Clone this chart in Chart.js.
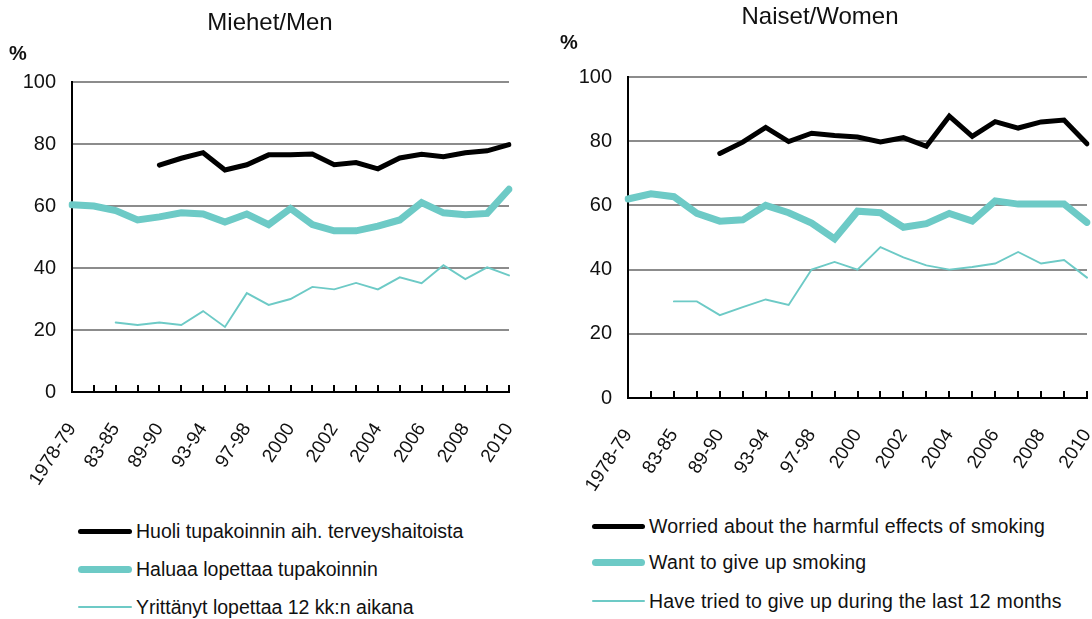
<!DOCTYPE html>
<html>
<head>
<meta charset="utf-8">
<script src="https://cdn.jsdelivr.net/npm/chart.js@4.4.1/dist/chart.umd.min.js"></script>
<style>
  html, body { margin: 0; padding: 0; background: #fff; width: 1092px; height: 619px; overflow: hidden; position: relative; }
  .panel { position: absolute; top: 0; width: 546px; height: 505px; }
  .legend-item { position: absolute; height: 24px; font-family: 'Liberation Sans', Arial, sans-serif; font-size: 19.5px; color: #111; white-space: nowrap; }
  .legend-line { position: absolute; border-radius: 4px; }
  .legend-text { position: absolute; top: 0; line-height: 24px; }
</style>
</head>
<body>
<div class="panel" style="left:0px"><canvas id="men" width="546" height="505"></canvas></div>
<div class="panel" style="left:548px"><canvas id="women" width="546" height="505"></canvas></div>
<div id="legendMen"></div>
<div id="legendWomen"></div>
<script>
// ---- Data ----
const categories = ["1978-79","80-82","83-85","86-88","89-90","91-92","93-94","95-96","97-98","1999","2000","2001","2002","2003","2004","2005","2006","2007","2008","2009","2010"];
const yTicks = [0, 20, 40, 60, 80, 100];

const menWorried = [null,null,null,null,73.2,75.4,77.2,71.6,73.3,76.5,76.5,76.8,73.3,74.0,72.0,75.5,76.7,75.9,77.2,77.8,79.8];
const menWant    = [60.4,60.0,58.5,55.5,56.5,57.8,57.4,54.8,57.4,54.0,59.2,54.0,52.0,52.0,53.5,55.5,61.1,57.8,57.2,57.6,65.4];
const menTried   = [null,null,22.4,21.6,22.4,21.6,26.1,21.0,31.9,28.1,30.0,33.9,33.1,35.2,33.1,37.0,35.1,40.9,36.4,40.2,37.6];

const womenWorried = [null,null,null,null,76.2,79.7,84.3,79.9,82.5,81.8,81.3,79.8,81.1,78.4,87.8,81.5,86.1,84.1,86.0,86.6,79.2];
const womenWant    = [62.0,63.6,62.7,57.5,55.1,55.5,60.0,57.7,54.5,49.6,58.2,57.7,53.2,54.3,57.5,55.1,61.4,60.4,60.4,60.4,54.7];
const womenTried   = [null,null,30.1,30.1,25.8,28.3,30.7,29.0,40.0,42.4,40.0,47.0,43.8,41.3,40.0,40.8,41.9,45.5,41.9,43.0,37.5];

const menLabels   = ["Huoli tupakoinnin aih. terveyshaitoista", "Haluaa lopettaa tupakoinnin", "Yrittänyt lopettaa 12 kk:n aikana"];
const womenLabels = ["Worried about the harmful effects of smoking", "Want to give up smoking", "Have tried to give up during the last 12 months"];
const menTitle = "Miehet/Men";
const womenTitle = "Naiset/Women";
const unitLabel = "%";

// ---- Styles ----
const FONT = "'Liberation Sans', Arial, sans-serif";
const BLACK = '#000000';
const TEAL = '#6dcac6';
const seriesStyle = [
  { color: BLACK, width: 5 },
  { color: TEAL, width: 7 },
  { color: TEAL, width: 1.9 }
];

const textPlugin = {
  id: 'panelText',
  afterDraw(chart, args, opts) {
    const ctx = chart.ctx;
    ctx.save();
    ctx.fillStyle = '#111';
    ctx.textBaseline = 'middle';
    ctx.textAlign = 'center';
    ctx.font = '24px ' + FONT;
    ctx.fillText(opts.title, opts.titleX, opts.titleY);
    ctx.font = 'bold 20px ' + FONT;
    ctx.fillText(opts.unit, opts.unitX, opts.unitY);
    ctx.restore();
  }
};

function makeChart(id, series, labels, geom, texts) {
  const datasets = series.map((d, i) => ({
    label: labels[i],
    data: d,
    borderColor: seriesStyle[i].color,
    backgroundColor: seriesStyle[i].color,
    borderWidth: seriesStyle[i].width,
    pointRadius: 0,
    pointHoverRadius: 0,
    tension: 0,
    borderCapStyle: 'round',
    borderJoinStyle: 'miter',
    fill: false,
    order: 3 - i
  }));
  return new Chart(document.getElementById(id), {
    type: 'line',
    data: { labels: categories, datasets },
    options: {
      responsive: false,
      animation: false,
      events: [],
      layout: { padding: { top: geom.top, left: 0, right: geom.right, bottom: 0 } },
      plugins: {
        legend: { display: false },
        tooltip: { enabled: false },
        title: { display: false },
        panelText: texts
      },
      scales: {
        x: {
          type: 'category',
          offset: false,
          grid: { display: true, drawOnChartArea: false, drawTicks: true, tickLength: -7, color: '#000', lineWidth: 2 },
          border: { display: true, color: '#000', width: 2 },
          ticks: {
            autoSkip: false,
            minRotation: 57,
            maxRotation: 57,
            padding: 34,
            labelOffset: 0,
            color: '#111',
            font: { family: FONT, size: 19 },
            callback: (v, i) => (i % 2 === 0 ? categories[i] : '')
          },
          afterFit(s) { s.height = geom.xHeight; s.paddingLeft = 0; s.paddingRight = 0; }
        },
        y: {
          min: 0,
          max: 100,
          afterBuildTicks(s) { s.ticks = yTicks.map(v => ({ value: v })); },
          grid: { drawTicks: false, color: (c) => c.tick && c.tick.value === 0 ? 'rgba(0,0,0,0)' : '#8c8c8c', lineWidth: 2 },
          border: { display: true, color: '#000', width: 2 },
          ticks: { padding: 16, color: '#111', font: { family: FONT, size: 20 } },
          afterFit(s) { s.width = geom.yWidth; s.paddingTop = 0; s.paddingBottom = 0; }
        }
      }
    },
    plugins: [textPlugin]
  });
}

makeChart('men', [menWorried, menWant, menTried], menLabels,
  { top: 82, right: 37, xHeight: 113, yWidth: 72 },
  { title: menTitle, titleX: 270, titleY: 23, unit: unitLabel, unitX: 18, unitY: 54 });

makeChart('women', [womenWorried, womenWant, womenTried], womenLabels,
  { top: 77, right: 7, xHeight: 107, yWidth: 80 },
  { title: womenTitle, titleX: 272, titleY: 17, unit: unitLabel, unitX: 21, unitY: 43 });

// ---- Legends (HTML) ----
function buildLegend(containerId, labels, geom) {
  const c = document.getElementById(containerId);
  labels.forEach((txt, i) => {
    const item = document.createElement('div');
    item.className = 'legend-item';
    item.style.left = geom.x + 'px';
    item.style.top = (geom.rows[i] - 12) + 'px';
    const line = document.createElement('div');
    line.className = 'legend-line';
    const w = seriesStyle[i].width;
    line.style.left = '0px';
    line.style.width = geom.lineW + 'px';
    line.style.height = w + 'px';
    line.style.top = (12 - w / 2) + 'px';
    line.style.background = seriesStyle[i].color;
    const t = document.createElement('span');
    t.className = 'legend-text';
    t.style.left = (geom.lineW + 4) + 'px';
    t.style.letterSpacing = geom.spacing + 'px';
    t.textContent = txt;
    item.appendChild(line);
    item.appendChild(t);
    c.appendChild(item);
  });
}
buildLegend('legendMen', menLabels, { x: 78, lineW: 54, rows: [531, 569, 607], spacing: 0 });
buildLegend('legendWomen', womenLabels, { x: 592, lineW: 53, rows: [526, 562, 601], spacing: 0.2 });
</script>
</body>
</html>
